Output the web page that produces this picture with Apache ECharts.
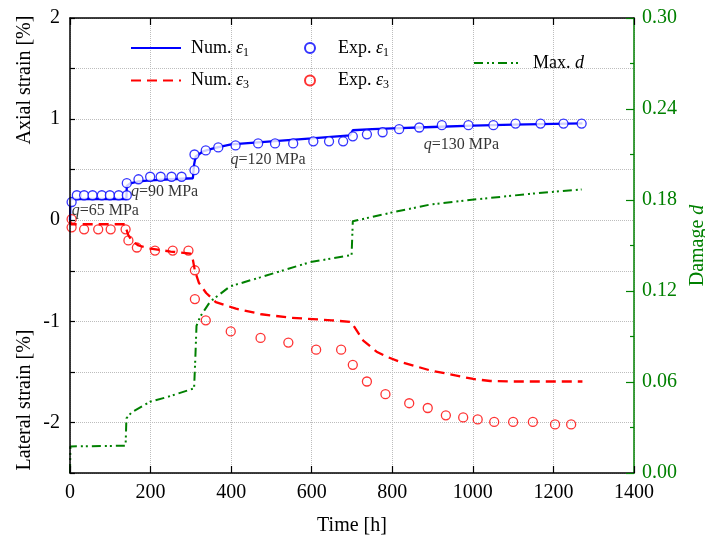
<!DOCTYPE html>
<html><head><meta charset="utf-8">
<script src="https://cdn.jsdelivr.net/npm/echarts@6/dist/echarts.min.js"></script>
<style>html,body{margin:0;padding:0;background:#fff}#c{width:705px;height:542px}</style>
</head><body><div id="c"></div>
<script>
// ---------------- data ----------------
const xTickLabels = ['0','200','400','600','800','1000','1200','1400'];
const leftTickLabels = ['-2','-1','0','1','2'];
const rightTickLabels = ['0.00','0.06','0.12','0.18','0.24','0.30'];

const numE1Time = [0, 1, 140, 141, 150, 170, 200, 250, 305, 308, 312, 330, 360, 400, 450, 500, 600, 695, 702, 750, 800, 900, 1000, 1100, 1200, 1272];
const numE1Val  = [0, 0.21, 0.21, 0.34, 0.365, 0.385, 0.395, 0.405, 0.415, 0.55, 0.63, 0.68, 0.715, 0.75, 0.765, 0.78, 0.81, 0.84, 0.89, 0.90, 0.908, 0.922, 0.935, 0.945, 0.952, 0.957];

const expE1Time = [4, 17, 35, 56, 79, 99, 121, 141, 141, 170, 199, 225, 252, 277, 309, 309, 337, 368, 411, 467, 509, 554, 604, 643, 678, 702, 737, 776, 817, 867, 923, 989, 1051, 1106, 1168, 1225, 1270];
const expE1Val  = [0.18, 0.247, 0.247, 0.247, 0.247, 0.247, 0.247, 0.247, 0.366, 0.405, 0.43, 0.43, 0.43, 0.43, 0.495, 0.65, 0.69, 0.72, 0.74, 0.76, 0.76, 0.76, 0.78, 0.78, 0.78, 0.83, 0.85, 0.87, 0.90, 0.917, 0.94, 0.94, 0.94, 0.956, 0.956, 0.956, 0.956];

const numE3Time = [0, 2, 137, 140, 145, 155, 170, 200, 250, 300, 305, 310, 320, 338, 362, 412, 475, 550, 650, 695, 700, 728, 761, 786, 819, 894, 976, 1001, 1043, 1100, 1272];
const numE3Val  = [0, -0.04, -0.04, -0.09, -0.15, -0.21, -0.25, -0.28, -0.31, -0.33, -0.39, -0.5, -0.62, -0.72, -0.81, -0.875, -0.93, -0.965, -0.99, -1.005, -1.02, -1.19, -1.30, -1.35, -1.40, -1.485, -1.55, -1.57, -1.59, -1.595, -1.595];

const expE3Time = [4, 4, 35, 70, 101, 138, 145, 166, 211, 255, 294, 310, 310, 337, 399, 473, 542, 611, 673, 702, 737, 783, 842, 888, 933, 976, 1012, 1053, 1100, 1149, 1204, 1244];
const expE3Val  = [0.01, -0.07, -0.09, -0.09, -0.09, -0.09, -0.2, -0.27, -0.30, -0.30, -0.30, -0.495, -0.78, -0.99, -1.10, -1.164, -1.21, -1.28, -1.28, -1.43, -1.595, -1.72, -1.81, -1.857, -1.93, -1.95, -1.97, -1.995, -1.995, -1.995, -2.02, -2.02];

const damageTime = [0, 1, 138, 140, 153, 199, 240, 308, 311, 314, 323, 348, 397, 472, 596, 699, 702, 803, 894, 1010, 1140, 1270];
const damageVal  = [0, 0.0175, 0.018, 0.036, 0.040, 0.047, 0.050, 0.0558, 0.075, 0.097, 0.103, 0.113, 0.123, 0.129, 0.139, 0.1437, 0.166, 0.172, 0.177, 0.1805, 0.184, 0.187];

const annotLabels = ['65', '90', '120', '130'];
const annotTime   = [3, 150, 397, 877];
const annotVal    = [0.09, 0.277, 0.593, 0.75];

// ---------------- chart ----------------
const FONT = 'Liberation Serif';
const GREEN = '#008000';
const zip = (a, b) => a.map((v, i) => [v, b[i]]);

const legendNames = {
  'Num. ε1': '{g1|}{n|Num. }{e|ε}{s|1}',
  'Num. ε3': '{g1|}{n|Num. }{e|ε}{s|3}',
  'Exp. ε1': '{g2|}{n|Exp. }{e|ε}{s|1}',
  'Exp. ε3': '{g2|}{n|Exp. }{e|ε}{s|3}',
  'Max. d':  '{g3|}{n|Max. }{e|d}'
};
const legendText = {
  fontFamily: FONT, fontSize: 18, color: '#000',
  rich: {
    g1: {width: 5}, g2: {width: 18}, g3: {width: 9},
    n: {fontFamily: FONT, fontSize: 18, color: '#000'},
    e: {fontFamily: FONT, fontSize: 18, fontStyle: 'italic', color: '#000'},
    s: {fontFamily: FONT, fontSize: 12, color: '#000', padding: [9, 0, 0, 0]}
  }
};
const commonLegend = {
  orient: 'vertical', formatter: n => legendNames[n], textStyle: legendText,
  selectedMode: false, padding: 0
};
const gridLine = {show: true, lineStyle: {type: 'dotted', color: '#bdbdbd', width: 1}};
const hidden = {axisLine: {show: false}, axisTick: {show: false}, axisLabel: {show: false}};

const chart = echarts.init(document.getElementById('c'), null, {renderer: 'canvas'});
chart.setOption({
  animation: false,
  backgroundColor: '#fff',
  grid: {left: 70, right: 71, top: 18, bottom: 69, containLabel: false, outerBoundsMode: 'none'},
  legend: [
    Object.assign({}, commonLegend, {data: ['Num. ε1', 'Num. ε3'], left: 130, top: 39, itemWidth: 50, itemHeight: 14, itemGap: 13, itemStyle: {opacity: 0}}),
    Object.assign({}, commonLegend, {data: ['Exp. ε1', 'Exp. ε3'], left: 304, top: 39, itemWidth: 10, itemHeight: 10, itemGap: 13}),
    Object.assign({}, commonLegend, {data: ['Max. d'], left: 473, top: 54, itemWidth: 45, itemHeight: 14, itemStyle: {opacity: 0}})
  ],
  graphic: [
    {type: 'text', x: 25, y: 80, rotation: Math.PI / 2,
     style: {text: 'Axial strain [%]', font: '20px "Liberation Serif"', fill: '#000', align: 'center', verticalAlign: 'middle', textAlign: 'center', textVerticalAlign: 'middle'}},
    {type: 'text', x: 25, y: 400, rotation: Math.PI / 2,
     style: {text: 'Lateral strain [%]', font: '20px "Liberation Serif"', fill: '#000', align: 'center', verticalAlign: 'middle', textAlign: 'center', textVerticalAlign: 'middle'}}
  ],
  xAxis: [
    {type: 'value', min: 0, max: 1400, interval: 200, position: 'bottom', z: 10,
     axisLine: {show: true, onZero: false, lineStyle: {color: '#000', width: 1.5}},
     axisTick: {show: true, inside: true, length: 7, lineStyle: {color: '#000', width: 1.2}},
     axisLabel: {fontFamily: FONT, fontSize: 20, color: '#000', margin: 10,
                 formatter: v => xTickLabels[Math.round(v / 200)]},
     splitLine: {show: false},
     name: 'Time [h]', nameLocation: 'middle', nameGap: 43,
     nameTextStyle: {fontFamily: FONT, fontSize: 20, color: '#000'}},
    {type: 'value', min: 0, max: 1400, interval: 200, position: 'top', z: 10,
     axisLine: {show: true, onZero: false, lineStyle: {color: '#000', width: 1.5}},
     axisTick: {show: true, inside: true, length: 7, lineStyle: {color: '#000', width: 1.2}},
     axisLabel: {show: false}, splitLine: {show: false}},
    Object.assign({type: 'value', min: 0, max: 1400, interval: 200, position: 'bottom', z: 0,
     splitLine: gridLine}, hidden)
  ],
  yAxis: [
    {type: 'value', min: -2.5, max: 2, interval: 0.5, position: 'left', z: 10,
     axisLine: {show: true, onZero: false, lineStyle: {color: '#000', width: 1.5}},
     axisTick: {show: true, inside: true, length: 5, lineStyle: {color: '#000', width: 1.2}},
     axisLabel: {fontFamily: FONT, fontSize: 20, color: '#000', margin: 10,
                 formatter: v => {
                   const r = Math.round(v);
                   return Math.abs(v - r) < 1e-9 ? leftTickLabels[r + 2] : '';
                 }},
     splitLine: {show: false}},
    {type: 'value', min: 0, max: 0.3, interval: 0.06, position: 'right', z: 10,
     axisLine: {show: true, onZero: false, lineStyle: {color: GREEN, width: 1.5}},
     axisTick: {show: true, inside: true, length: 8, lineStyle: {color: GREEN, width: 1.2}},
     minorTick: {show: true, splitNumber: 2, length: 4, lineStyle: {color: GREEN, width: 1.2}},
     axisLabel: {fontFamily: FONT, fontSize: 20, color: GREEN, margin: 8,
                 formatter: v => rightTickLabels[Math.round(v / 0.06)]},
     splitLine: {show: false},
     name: '{a|Damage }{b|d}', nameLocation: 'middle', nameGap: 54,
     nameTextStyle: {fontFamily: FONT, fontSize: 20, color: GREEN,
       rich: {a: {fontFamily: FONT, fontSize: 20, color: GREEN},
              b: {fontFamily: FONT, fontSize: 20, color: GREEN, fontStyle: 'italic'}}}},
    Object.assign({type: 'value', min: -2.5, max: 2, interval: 0.5, position: 'left', z: 0,
     splitLine: gridLine}, hidden)
  ],
  series: [
    {name: 'Num. ε1', type: 'line', data: zip(numE1Time, numE1Val), xAxisIndex: 0, yAxisIndex: 0,
     symbol: 'none', showSymbol: false, lineStyle: {color: '#0000ff', width: 2.3}, itemStyle: {color: '#0000ff'}, z: 2},
    {name: 'Exp. ε3', type: 'scatter', data: zip(expE3Time, expE3Val), xAxisIndex: 0, yAxisIndex: 0,
     symbol: 'circle', symbolSize: 9, itemStyle: {color: 'rgba(255,255,255,0)', borderColor: '#ff0000', borderWidth: 1.3}, z: 2},
    {name: 'Num. ε3', type: 'line', data: zip(numE3Time, numE3Val), xAxisIndex: 0, yAxisIndex: 0,
     symbol: 'none', showSymbol: false, lineStyle: {color: '#ff0000', width: 2.3, type: [10, 6]}, itemStyle: {color: '#ff0000'}, z: 3},
    {name: 'Exp. ε1', type: 'scatter', data: zip(expE1Time, expE1Val), xAxisIndex: 0, yAxisIndex: 0,
     symbol: 'circle', symbolSize: 9, itemStyle: {color: '#ffffff', borderColor: '#0000ff', borderWidth: 1.3}, z: 4},
    {name: 'Max. d', type: 'line', data: zip(damageTime, damageVal), xAxisIndex: 0, yAxisIndex: 1,
     symbol: 'none', showSymbol: false, lineStyle: {color: GREEN, width: 2, type: [9, 4, 2, 3, 2, 4]}, itemStyle: {color: GREEN}, z: 3},
    {name: 'annot', type: 'scatter', data: zip(annotTime, annotVal), xAxisIndex: 0, yAxisIndex: 0,
     symbolSize: 1, itemStyle: {color: 'rgba(0,0,0,0)'}, silent: true, z: 5,
     label: {show: true, position: 'right', distance: 0,
             formatter: p => '{q|q}{t|=' + annotLabels[p.dataIndex] + ' MPa}',
             rich: {q: {fontFamily: FONT, fontSize: 16, fontStyle: 'italic', color: '#000'},
                    t: {fontFamily: FONT, fontSize: 16, color: '#000'}}}}
  ]
});
</script>
</body></html>
